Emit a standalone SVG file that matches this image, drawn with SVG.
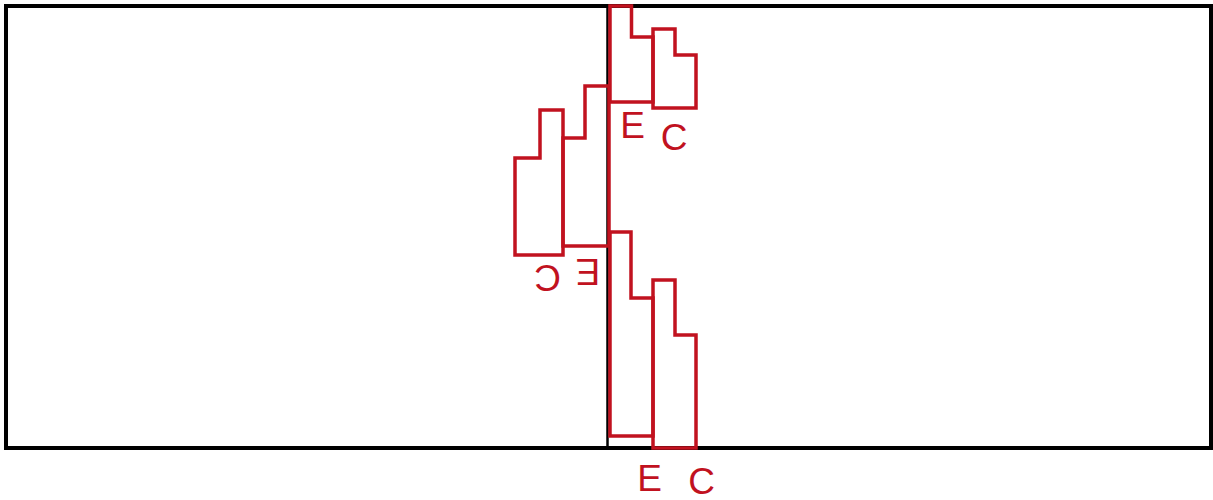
<svg xmlns="http://www.w3.org/2000/svg" width="1213" height="500" viewBox="0 0 1213 500">
<style>
.frame{fill:none;stroke:#000;stroke-width:4}
.axis{stroke:#000;stroke-width:2.5}
.bar{fill:none;stroke:#c1121f;stroke-width:3.5;stroke-linejoin:miter}
.lbl{fill:#c1121f;font-family:"Liberation Sans",Arial,sans-serif;font-size:37px;text-anchor:middle}
</style>
<rect width="1213" height="500" fill="#fff"/>
<rect id="frame" class="frame" x="6" y="6" width="1205" height="442"/>
<g id="connectors">
<line class="axis" x1="607.5" y1="6" x2="607.5" y2="448"/>
</g>
<g id="node-a">
<polygon class="bar" points="610,6 631.5,6 631.5,37 653,37 653,102 610,102"/>
<text class="lbl" x="632.5" y="138">E</text>
</g>
<g id="node-b">
<polygon class="bar" points="653,29 675,29 675,55 696,55 696,108 653,108"/>
<text class="lbl" x="674" y="150">C</text>
</g>
<g id="node-c">
<polygon class="bar" points="515,158 540,158 540,110 563,110 563,255 515,255"/>
<text class="lbl" x="547.5" y="290.5" transform="rotate(180 547.5 277.5)">C</text>
</g>
<g id="node-d">
<polygon class="bar" points="563,138 585,138 585,86 609,86 609,246 563,246"/>
<text class="lbl" x="588" y="285" transform="rotate(180 588 272)">E</text>
</g>
<g id="node-e">
<polygon class="bar" points="610,232 631,232 631,298 653,298 653,436 610,436"/>
<text class="lbl" x="649.5" y="491">E</text>
</g>
<g id="node-f">
<polygon class="bar" points="653,280 675,280 675,335 696,335 696,448 653,448"/>
<text class="lbl" x="701.5" y="494">C</text>
</g>
</svg>
